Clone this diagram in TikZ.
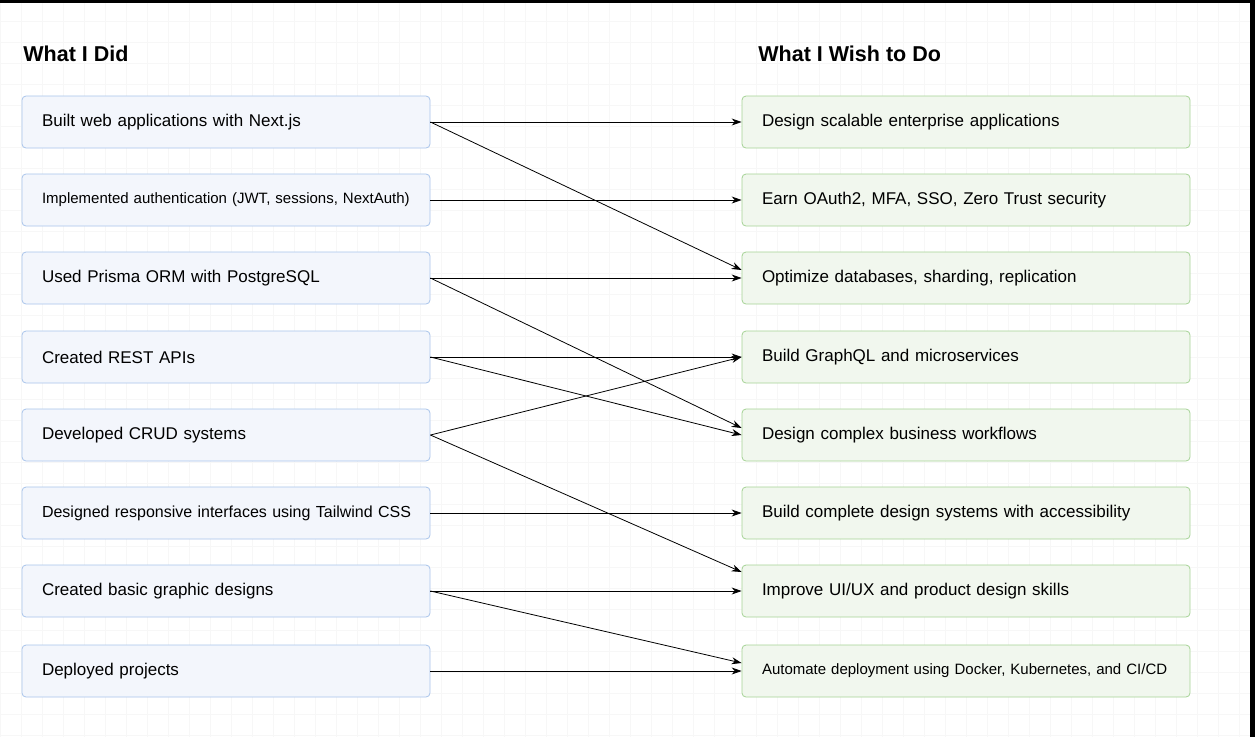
\documentclass[tikz,border=0pt]{standalone}
\usepackage{fontspec}
\setmainfont{Liberation Sans}
\usetikzlibrary{arrows.meta}
\definecolor{didfill}{HTML}{F3F6FC}
\definecolor{diddraw}{HTML}{A9C4EB}
\definecolor{wishfill}{HTML}{F1F7EE}
\definecolor{wishdraw}{HTML}{A6D396}
\begin{document}
\begin{tikzpicture}
            [x=1pt,y=-1pt,thick,
             box/.style={rectangle,rounded corners=4pt,line width=0.8pt,minimum height=52pt,
                 inner xsep=20pt,align=left,font=\fontsize{17}{20}\selectfont},
             did/.style={box,fill=didfill,draw=diddraw,text width=368pt},
             wish/.style={box,fill=wishfill,draw=wishdraw,text width=408pt},
             small/.style={font=\fontsize{15}{18}\selectfont},
             title/.style={anchor=west,inner sep=0pt,font=\fontsize{21.5}{25}\selectfont\bfseries},
             link/.style={line width=0.8pt,-{Stealth[length=10pt,width=7pt]}}]
            \useasboundingbox (0,0) rectangle (1255,737);
            \fill[white] (0,0) rectangle (1255,737);
            \draw[black!3,line width=0.5pt,step=21pt] (0,0) grid (1255,737);
            \fill[black] (0,0) rectangle (1255,3);
            \fill[black] (1250,0) rectangle (1255,737);
            %
            \node[title] (tdid) at (23,54) {What I Did};
            \node[title] (twish) at (758,54) {What I Wish to Do};
            %
            \node[did] (l1) at (226,122) {Built web applications with Next.js};
            \node[did,small] (l2) at (226,200) {\mbox{Implemented authentication (JWT, sessions, NextAuth)}};
            \node[did] (l3) at (226,278) {Used Prisma ORM with PostgreSQL};
            \node[did] (l4) at (226,357) {Created REST APIs};
            \node[did] (l5) at (226,435) {Developed CRUD systems};
            \node[did,font=\fontsize{16}{19}\selectfont] (l6) at (226,513) {\mbox{Designed responsive interfaces using Tailwind CSS}};
            \node[did] (l7) at (226,591) {Created basic graphic designs};
            \node[did] (l8) at (226,671) {Deployed projects};
            %
            \node[wish] (r1) at (966,122) {Design scalable enterprise applications};
            \node[wish] (r2) at (966,200) {Earn OAuth2, MFA, SSO, Zero Trust security};
            \node[wish] (r3) at (966,278) {Optimize databases, sharding, replication};
            \node[wish] (r4) at (966,357) {Build GraphQL and microservices};
            \node[wish] (r5) at (966,435) {Design complex business workflows};
            \node[wish] (r6) at (966,513) {Build complete design systems with accessibility};
            \node[wish] (r7) at (966,591) {Improve UI/UX and product design skills};
            \node[wish,small] (r8) at (966,671) {\mbox{Automate deployment using Docker, Kubernetes, and CI/CD}};
            %
            \draw[link] (l1.east) -- (r1.west);
            \draw[link] (l1.east) -- ([yshift=8pt]r3.west);
            \draw[link] (l2.east) -- (r2.west);
            \draw[link] (l3.east) -- (r3.west);
            \draw[link] (l3.east) -- ([yshift=7pt]r5.west);
            \draw[link] (l4.east) -- (r4.west);
            \draw[link] (l4.east) -- (r5.west);
            \draw[link] (l5.east) -- (r4.west);
            \draw[link] (l5.east) -- ([yshift=19pt]r7.west);
            \draw[link] (l6.east) -- (r6.west);
            \draw[link] (l7.east) -- (r7.west);
            \draw[link] (l7.east) -- ([yshift=8pt]r8.west);
            \draw[link] (l8.east) -- (r8.west);
        \end{tikzpicture}
\end{document}
